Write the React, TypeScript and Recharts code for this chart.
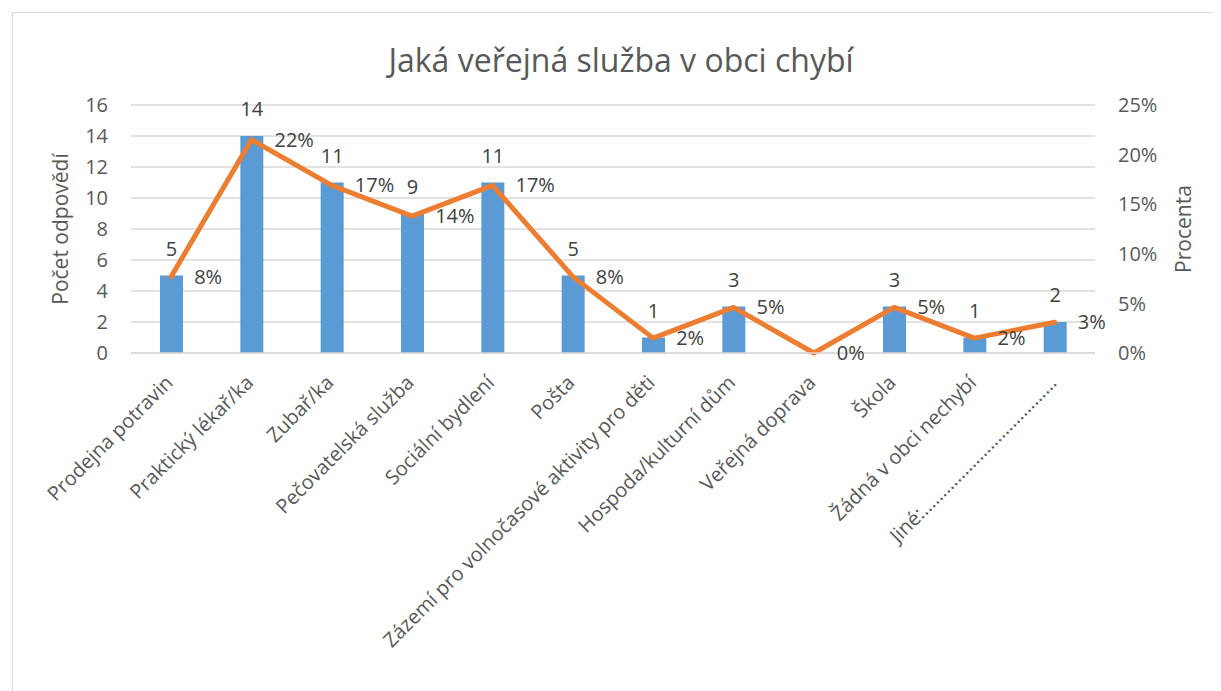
import { ComposedChart, Bar, Line, XAxis, YAxis, CartesianGrid, LabelList } from "recharts";

const categories = [
  "Prodejna potravin",
  "Praktický lékař/ka",
  "Zubař/ka",
  "Pečovatelská služba",
  "Sociální bydlení",
  "Pošta",
  "Zázemí pro volnočasové aktivity pro děti",
  "Hospoda/kulturní dům",
  "Veřejná doprava",
  "Škola",
  "Žádná v obci nechybí",
  "Jiné:………………………………",
];
const counts = [5, 14, 11, 9, 11, 5, 1, 3, 0, 3, 1, 2];
const percents = [7.7, 21.5, 16.9, 13.8, 16.9, 7.7, 1.5, 4.6, 0, 4.6, 1.5, 3.1];
const countTicks = [0, 2, 4, 6, 8, 10, 12, 14, 16];
const percentTicks = [0, 5, 10, 15, 20, 25];

const data = categories.map((name, i) => ({ name, count: counts[i], pct: percents[i] }));

const FONT = "'Open Sans', sans-serif";
const TICK = "#595959";
const LABEL = "#404040";

function CategoryTick(props: any) {
  const { x, y, payload } = props;
  return (
    <text
      x={0}
      y={0}
      transform={`translate(${x + 3}, ${y + 31}) rotate(-45)`}
      textAnchor="end"
      fontSize={20}
      fontFamily={FONT}
      fill={TICK}
    >
      {payload.value}
    </text>
  );
}

function AxisTitle(text: string, x: number) {
  return (props: any) => {
    const vb = props.viewBox;
    const cy = vb.y + vb.height / 2;
    return (
      <text
        x={x}
        y={cy}
        transform={`rotate(-90, ${x}, ${cy})`}
        textAnchor="middle"
        dominantBaseline="central"
        fontSize={21}
        fontFamily={FONT}
        fill={TICK}
      >
        {text}
      </text>
    );
  };
}

export default function App() {
  return (
    <div style={{ position: "relative", width: 1213, height: 683, fontFamily: FONT }}>
      <div
        style={{
          position: "absolute",
          left: 4,
          top: 4,
          width: 1220,
          height: 690,
          border: "1px solid #d9d9d9",
          boxSizing: "border-box",
        }}
      />
      <div
        style={{
          position: "absolute",
          left: 0,
          width: 1226,
          top: 30,
          textAlign: "center",
          fontSize: 32,
          color: TICK,
          fontFamily: FONT,
          lineHeight: "44px",
        }}
      >
        Jaká veřejná služba v obci chybí
      </div>
      <div style={{ position: "absolute", left: 0, top: 0 }}>
        <ComposedChart
          width={1213}
          height={683}
          data={data}
          margin={{ top: 97, right: 0, bottom: 0, left: 0 }}
        >
          <CartesianGrid vertical={false} stroke="#d9d9d9" strokeWidth={1.5} yAxisId="left" />
          <XAxis
            dataKey="name"
            interval={0}
            height={338}
            tickLine={false}
            tickSize={0}
            tickMargin={0}
            axisLine={{ stroke: "#d9d9d9", strokeWidth: 1.5 }}
            tick={<CategoryTick />}
          />
          <YAxis
            yAxisId="left"
            orientation="left"
            width={123}
            domain={[0, 16]}
            ticks={countTicks}
            tickLine={false}
            axisLine={false}
            tickSize={0}
            tickMargin={23}
            tick={{ fontSize: 20, fill: TICK, fontFamily: FONT }}
            label={{ content: AxisTitle("Počet odpovědí", 52) }}
          />
          <YAxis
            yAxisId="right"
            orientation="right"
            width={126}
            domain={[0, 25]}
            ticks={percentTicks}
            tickFormatter={(v) => `${v}%`}
            tickLine={false}
            axisLine={false}
            tickSize={0}
            tickMargin={23}
            tick={{ fontSize: 20, fill: TICK, fontFamily: FONT, textAnchor: "start" }}
            label={{ content: AxisTitle("Procenta", 1175) }}
          />
          <Bar yAxisId="left" dataKey="count" fill="#5B9BD5" barSize={23} isAnimationActive={false}>
            <LabelList
              dataKey="count"
              position="top"
              offset={20}
              fontSize={20}
              fill={LABEL}
              fontFamily={FONT}
            />
          </Bar>
          <Line
            yAxisId="right"
            type="linear"
            dataKey="pct"
            stroke="#ED7D31"
            strokeWidth={5}
            strokeLinecap="round"
            strokeLinejoin="round"
            dot={false}
            activeDot={false}
            isAnimationActive={false}
          >
            <LabelList
              dataKey="pct"
              position="right"
              offset={23}
              fontSize={20}
              fill={LABEL}
              fontFamily={FONT}
              formatter={(v: any) => `${Math.round(v)}%`}
            />
          </Line>
        </ComposedChart>
      </div>
    </div>
  );
}
